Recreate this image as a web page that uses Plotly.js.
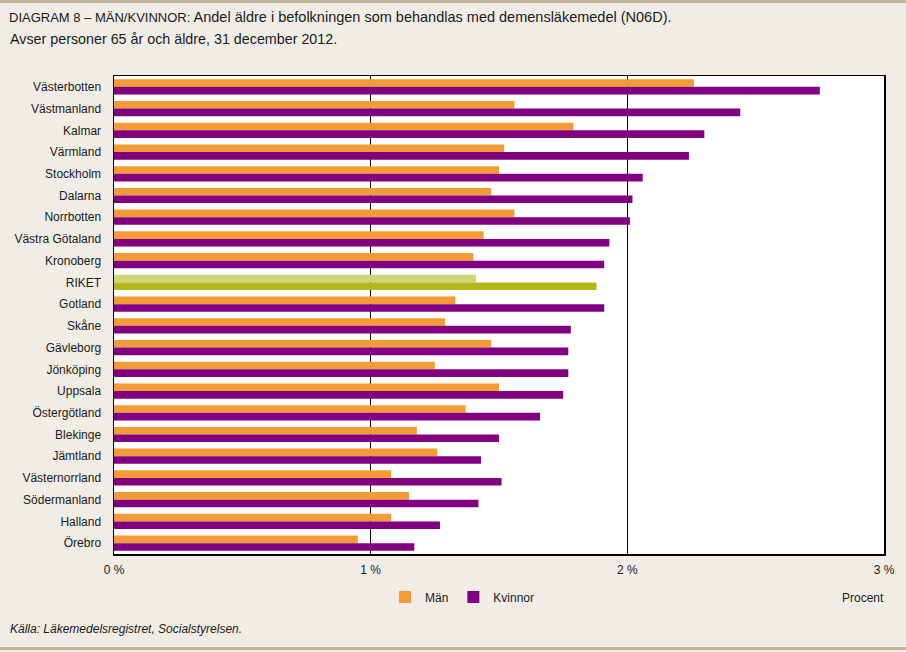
<!DOCTYPE html>
<html>
<head>
<meta charset="utf-8">
<script src="https://cdn.plot.ly/plotly-3.0.1.min.js"></script>
<style>
html,body{margin:0;padding:0;background:#f1ede6;}
#chart{width:906px;height:652px;}
</style>
</head>
<body>
<div id="chart"></div>
<script>
const categories = ["Västerbotten","Västmanland","Kalmar","Värmland","Stockholm","Dalarna","Norrbotten","Västra Götaland","Kronoberg","RIKET","Gotland","Skåne","Gävleborg","Jönköping","Uppsala","Östergötland","Blekinge","Jämtland","Västernorrland","Södermanland","Halland","Örebro"];
const man =     [2.26,1.56,1.79,1.52,1.50,1.47,1.56,1.44,1.40,1.41,1.33,1.29,1.47,1.25,1.50,1.37,1.18,1.26,1.08,1.15,1.08,0.95];
const kvinnor = [2.75,2.44,2.30,2.24,2.06,2.02,2.01,1.93,1.91,1.88,1.91,1.78,1.77,1.77,1.75,1.66,1.50,1.43,1.51,1.42,1.27,1.17];
const tickVals = [0,1,2,3];
const tickLabels = ["0 %","1 %","2 %","3 %"];
const seriesNames = ["Män","Kvinnor"];

const ORANGE = "#f39c37", PURPLE = "#800080";
const RIKET_LIGHT = "#d1d57a", RIKET_DARK = "#b2b81a";
const manColors = categories.map(c => c === "RIKET" ? RIKET_LIGHT : ORANGE);
const kvColors = categories.map(c => c === "RIKET" ? RIKET_DARK : PURPLE);

const font = "Liberation Sans, Arial, sans-serif";

const traces = [
  {type:"bar", orientation:"h", name:seriesNames[0], y:categories, x:man,
   marker:{color:manColors, line:{width:0}}, hoverinfo:"x+y"},
  {type:"bar", orientation:"h", name:seriesNames[1], y:categories, x:kvinnor,
   marker:{color:kvColors, line:{width:0}}, hoverinfo:"x+y"}
];

const L=114, R=884, T=76, B=554, W=906, H=652;
const pw=R-L, ph=B-T;
const px = x => (x-L)/pw;
const py = y => (B-y)/ph;

const layout = {
  width:W, height:H,
  paper_bgcolor:"#f1ede6", plot_bgcolor:"#ffffff",
  margin:{l:L, r:W-R, t:T, b:H-B, pad:0},
  font:{family:font, size:12, color:"#1a1a1a"},
  barmode:"group", bargap:0.3, bargroupgap:0,
  showlegend:true,
  legend:{orientation:"h", x:px(385), xanchor:"left", y:py(597), yanchor:"middle",
          bgcolor:"rgba(0,0,0,0)", font:{size:12, family:font}, itemwidth:30,
          tracegroupgap:0, traceorder:"normal"},
  title:{text:"<span style='font-size:13px'>DIAGRAM 8 – MÄN/KVINNOR:</span> Andel äldre i befolkningen som behandlas med demensläkemedel (N06D).",
         x:9/W, xanchor:"left", xref:"container", y:1-17/H, yanchor:"middle", yref:"container",
         font:{size:14.5, family:font, color:"#1a1a1a"}},
  xaxis:{range:[0,3], tickvals:tickVals, ticktext:tickLabels, showgrid:true, gridcolor:"#000000", gridwidth:1.2,
         zeroline:false, showline:true, linecolor:"#000000", linewidth:1.5, mirror:true,
         ticks:"", ticklabelstandoff:4, tickfont:{size:12, family:font}, fixedrange:true},
  yaxis:{type:"category", autorange:"reversed", showgrid:false, zeroline:false, showline:true,
         linecolor:"#000000", linewidth:1.5, mirror:true, ticks:"", ticklabelstandoff:9,
         tickfont:{size:12, family:font}, fixedrange:true},
  annotations:[
    {text:"Avser personer 65 år och äldre, 31 december 2012.", xref:"paper", yref:"paper",
     x:px(8), y:py(39), xanchor:"left", yanchor:"middle", showarrow:false,
     font:{size:14.3, family:font, color:"#1a1a1a"}},
    {text:"Procent", xref:"paper", yref:"paper", x:px(886), y:py(598), xanchor:"right", yanchor:"middle",
     showarrow:false, font:{size:12, family:font, color:"#1a1a1a"}},
    {text:"<i>Källa: Läkemedelsregistret, Socialstyrelsen.</i>", xref:"paper", yref:"paper",
     x:px(8), y:py(629), xanchor:"left", yanchor:"middle", showarrow:false,
     font:{size:12, family:font, color:"#1a1a1a"}}
  ],
  shapes:[
    {type:"rect", xref:"paper", yref:"paper", x0:px(0), x1:px(W), y0:py(0), y1:py(3),
     fillcolor:"#c5b59a", line:{width:0}, layer:"above"},
    {type:"rect", xref:"paper", yref:"paper", x0:px(0), x1:px(W), y0:py(647), y1:py(650),
     fillcolor:"#c5b59a", line:{width:0}, layer:"above"}
  ]
};

Plotly.newPlot("chart", traces, layout, {displayModeBar:false, staticPlot:true});
</script>
</body>
</html>
